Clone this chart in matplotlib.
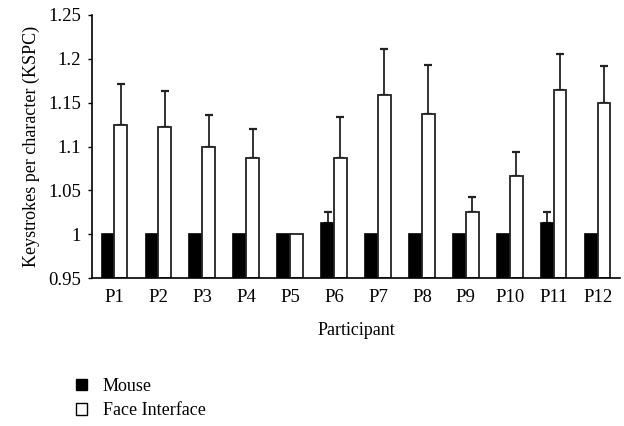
import numpy as np
import matplotlib.pyplot as plt
from matplotlib.patches import Patch

plt.rcParams['font.family'] = ['Liberation Serif', 'DejaVu Serif']
plt.rcParams['font.size'] = 13

participants = ['P1', 'P2', 'P3', 'P4', 'P5', 'P6', 'P7', 'P8', 'P9', 'P10', 'P11', 'P12']
mouse = [1.0, 1.0, 1.0, 1.0, 1.0, 1.0125, 1.0, 1.0, 1.0, 1.0, 1.0125, 1.0]
mouse_err = [0, 0, 0, 0, 0, 0.013, 0, 0, 0, 0, 0.013, 0]
face = [1.125, 1.122, 1.1, 1.087, 1.0, 1.0875, 1.159, 1.137, 1.025, 1.0665, 1.164, 1.15]
face_err = [0.046, 0.041, 0.036, 0.033, 0, 0.046, 0.052, 0.056, 0.017, 0.027, 0.041, 0.042]

fig = plt.figure(figsize=(6.24, 4.26), dpi=100)
ax = fig.add_axes([0.148, 0.347, 0.845, 0.618])

x = np.arange(len(participants))
w = 0.29
base = 0.95  # bars start at the bottom of the axis

ax.bar(x - w / 2, np.array(mouse) - base, w, bottom=base, color='black',
       edgecolor='black', linewidth=1.2, zorder=2)
ax.bar(x + w / 2, np.array(face) - base, w, bottom=base, color='white',
       edgecolor='#222222', linewidth=1.3, zorder=2)


def up_errors(xpos, vals, errs):
    # one-sided (upper) error bars, skipped where there is no spread
    xpos, vals, errs = np.asarray(xpos), np.asarray(vals), np.asarray(errs)
    m = errs > 0
    ax.errorbar(xpos[m], vals[m], yerr=[np.zeros(m.sum()), errs[m]], fmt='none',
                ecolor='#222222', elinewidth=1.3, capsize=3, capthick=1.6, zorder=1)


up_errors(x - w / 2, mouse, mouse_err)
up_errors(x + w / 2, face, face_err)

ax.set_xlim(-0.5, len(x) - 0.5)
ax.set_ylim(0.95, 1.25)
ax.set_yticks(np.arange(0.95, 1.2501, 0.05))
ax.set_yticklabels(['0.95', '1', '1.05', '1.1', '1.15', '1.2', '1.25'])
ax.set_xticks(x)
ax.set_xticklabels(participants)
ax.tick_params(axis='x', length=0, pad=8, labelsize=13.5)
ax.tick_params(axis='y', length=3, direction='out', width=1, labelsize=13.5, pad=5)
for s in ['top', 'right']:
    ax.spines[s].set_visible(False)
for s in ['left', 'bottom']:
    ax.spines[s].set_linewidth(1.2)
ax.set_xlabel('Participant', labelpad=11)
ax.set_ylabel('Keystrokes per character (KSPC)', labelpad=6)

handles = [Patch(facecolor='black', edgecolor='black', label='Mouse'),
           Patch(facecolor='white', edgecolor='black', label='Face Interface')]
fig.legend(handles=handles, loc='upper left', bbox_to_anchor=(0.108, 0.134),
           frameon=False, handlelength=0.6, handleheight=0.6,
           handletextpad=0.85, labelspacing=0.4, borderpad=0)

fig.savefig('out.png', dpi=100)
